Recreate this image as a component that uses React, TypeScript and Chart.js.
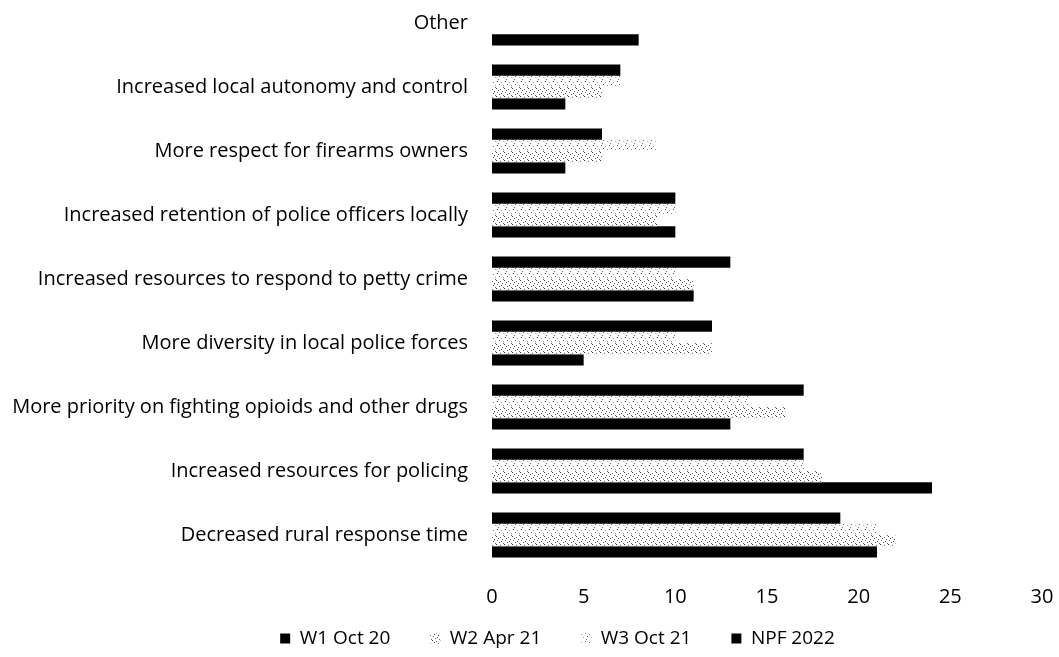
import React, { useEffect, useRef } from "react";
import { Chart, registerables } from "chart.js";

Chart.register(...registerables);

const categories: string[] = [
  "Other",
  "Increased local autonomy and control",
  "More respect for firearms owners",
  "Increased retention of police officers locally",
  "Increased resources to respond to petty crime",
  "More diversity in local police forces",
  "More priority on fighting opioids and other drugs",
  "Increased resources for policing",
  "Decreased rural response time",
];

const npf2022: (number | null)[] = [null, 7, 6, 10, 13, 12, 17, 17, 19];
const w3Oct21: (number | null)[] = [null, 7, 9, 10, 10, 10, 14, 17, 21];
const w2Apr21: (number | null)[] = [null, 6, 6, 9, 11, 12, 16, 18, 22];
const w1Oct20: (number | null)[] = [8, 4, 4, 10, 11, 5, 13, 24, 21];

const xTicks: number[] = [0, 5, 10, 15, 20, 25, 30];

const FONT = "'Open Sans', Lato, sans-serif";

// plot frame (page pixels)
const AREA = { left: 492, right: 1042, top: -9, bottom: 567 };
const LEGEND_TOP = 589;

function makePattern(dots: [number, number, string][], size: number): CanvasPattern | string {
  const c = document.createElement("canvas");
  c.width = size;
  c.height = size;
  const ctx = c.getContext("2d");
  if (!ctx) return "#ccc";
  ctx.fillStyle = "#fff";
  ctx.fillRect(0, 0, size, size);
  for (const [x, y, col] of dots) {
    ctx.fillStyle = col;
    ctx.fillRect(x, y, 1, 1);
  }
  const p = ctx.createPattern(c, "repeat");
  return p || "#ccc";
}

const fixLayout = {
  id: "fixLayout",
  afterLayout(chart: any) {
    const { left, right, top, bottom } = AREA;
    chart.chartArea = { left, right, top, bottom, width: right - left, height: bottom - top };
    const x = chart.scales.x;
    x.left = left;
    x.right = right;
    x.width = right - left;
    x.top = bottom;
    x.bottom = bottom + 40;
    x.height = 40;
    x.configure();
    const y = chart.scales.y;
    y.left = 0;
    y.right = left;
    y.width = left;
    y.top = top;
    y.bottom = bottom;
    y.height = bottom - top;
    y.configure();
    const lg = chart.legend;
    if (lg) {
      const h = lg.height;
      lg.top = LEGEND_TOP;
      lg.bottom = LEGEND_TOP + h;
    }
  },
};

export default function App() {
  const ref = useRef<HTMLCanvasElement | null>(null);

  useEffect(() => {
    if (!ref.current) return;
    const w2Pattern = makePattern(
      [
        [0, 0, "#333"],
        [4, 1, "#666"],
        [2, 2, "#444"],
        [6, 3, "#333"],
        [1, 4, "#777"],
        [5, 5, "#444"],
        [3, 6, "#555"],
        [7, 7, "#666"],
      ],
      8
    );
    const w3Pattern = makePattern(
      [
        [1, 1, "#555"],
        [5, 2, "#888"],
        [3, 4, "#666"],
        [7, 5, "#999"],
        [2, 7, "#777"],
      ],
      8
    );

    const chart = new Chart(ref.current, {
      type: "bar",
      data: {
        labels: categories,
        datasets: [
          { label: "NPF 2022", data: npf2022, backgroundColor: "#000", borderWidth: 0 },
          { label: "W3 Oct 21", data: w3Oct21, backgroundColor: w3Pattern as any, borderWidth: 0 },
          { label: "W2 Apr 21", data: w2Apr21, backgroundColor: w2Pattern as any, borderWidth: 0 },
          { label: "W1 Oct 20", data: w1Oct20, backgroundColor: "#000", borderWidth: 0 },
        ],
      },
      options: {
        indexAxis: "y",
        animation: false,
        responsive: false,
        maintainAspectRatio: false,
        datasets: {
          bar: { categoryPercentage: 0.7, barPercentage: 1 },
        },
        layout: { padding: { left: 60, right: 4, top: 0, bottom: 0 } },
        scales: {
          x: {
            min: 0,
            max: 30,
            afterBuildTicks: (scale: any) => {
              scale.ticks = xTicks.map((v) => ({ value: v }));
            },
            grid: { display: false, drawTicks: false },
            border: { display: false },
            ticks: { color: "#000", font: { family: FONT, size: 20 }, padding: 18 },
          },
          y: {
            grid: { display: false, drawTicks: false },
            border: { display: false },
            ticks: { color: "#000", font: { family: FONT, size: 20 }, padding: 24, autoSkip: false },
          },
        },
        plugins: {
          legend: {
            position: "bottom",
            reverse: true,
            labels: {
              color: "#000",
              font: { family: FONT, size: 19 },
              boxWidth: 10,
              boxHeight: 10,
              padding: 40,
            },
          },
          tooltip: { enabled: false },
        },
      },
      plugins: [fixLayout],
    });
    return () => chart.destroy();
  }, []);

  return (
    <div
      style={{
        position: "fixed",
        left: 0,
        top: 0,
        width: 1059,
        height: 657,
        overflow: "hidden",
        background: "#fff",
      }}
    >
      <canvas
        ref={ref}
        width={1059}
        height={657}
        style={{ position: "absolute", left: 0, top: 0, width: 1059, height: 657 }}
      />
    </div>
  );
}
